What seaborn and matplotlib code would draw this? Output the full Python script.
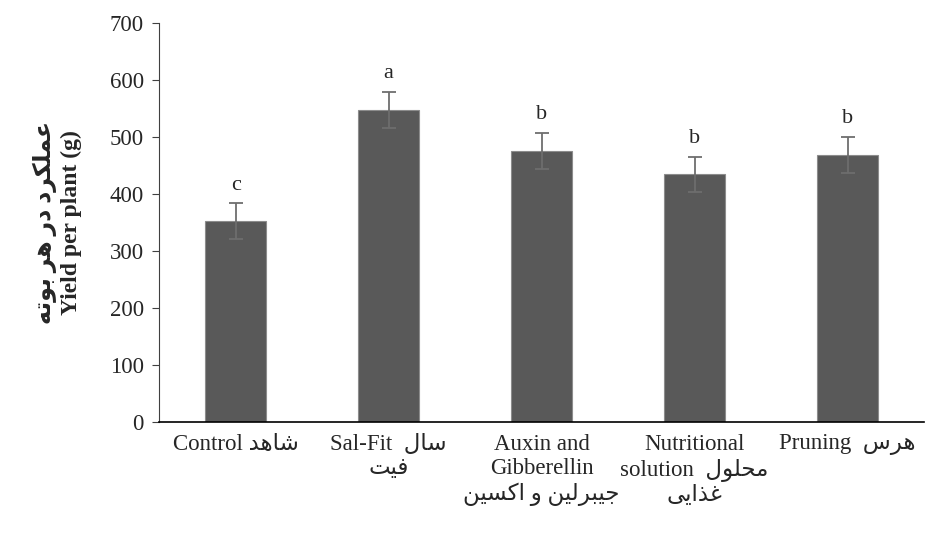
import numpy as np
import pandas as pd
import seaborn as sns
from matplotlib import pyplot as plt

# Arabic/Persian words are written in pre-shaped presentation forms, visual order
shahed = "\uFEAA\uFEEB\uFE8E\uFEB7"                     # شاهد
sal = "\uFEDD\uFE8E\uFEB3"                              # سال
fit = "\uFE96\uFEF4\uFED3"                              # فیت
auxin_fa = "\uFEE6\uFEF4\uFEB4\uFEDB\uFE8D"             # اکسین
gibb_fa = "\uFEE6\uFEF4\uFEDF\uFEAE\uFE92\uFEF4\uFE9F"  # جیبرلین
mahlul = "\uFEDD\uFEEE\uFEE0\uFEA4\uFEE3"               # محلول
ghazaei = "\uFEF0\uFEF3\uFE8D\uFEAC\uFECF"              # غذایی
haras = "\uFEB1\uFEAE\uFEEB"                            # هرس
ylab_fa = ("\uFEEA\uFE97\uFEEE\uFE91" + " " + "\uFEAE\uFEEB" + " "
           + "\uFEAD\uFEA9" + " " + "\uFEA9\uFEAE\uFEDC\uFEE0\uFEE4\uFECB")  # عملکرد در هر بوته

treatments = ["Control " + shahed,
              "Sal-Fit  " + sal + "\n" + fit,
              "Auxin and\nGibberellin\n" + auxin_fa + " \uFEED " + gibb_fa,
              "Nutritional\nsolution  " + mahlul + "\n" + ghazaei,
              "Pruning  " + haras]
yield_mean = [352, 547, 475, 434, 468]
yield_err = [31, 32, 32, 31, 32]
letters = ["c", "a", "b", "b", "b"]

df = pd.DataFrame({"treatment": treatments, "yield": yield_mean})

sns.set_style("white")
plt.rcParams['font.family'] = ['Liberation Serif', 'DejaVu Sans']

fig = plt.figure(figsize=(9.25, 5.41), dpi=100)
ax = fig.add_axes([0.172, 0.2205, 0.827, 0.7375])

sns.barplot(x="treatment", y="yield", data=df, color="#595959", width=0.4,
            errorbar=None, saturation=1, edgecolor="#8c8c8c", linewidth=0.8, ax=ax)
xs = np.arange(len(treatments))
ax.errorbar(xs, yield_mean, yerr=yield_err, fmt="none", ecolor="#6e6e6e",
            elinewidth=1.3, capsize=5, capthick=1.3)
for x, m, e, l in zip(xs, yield_mean, yield_err, letters):
    ax.annotate(l, (x, m + e), xytext=(0, 13), textcoords="offset points",
                ha="center", va="center", fontsize=16)

ax.set_ylim(0, 700)
ax.set_xlim(-0.5, 4.5)
ax.set_yticks(range(0, 701, 100))
ax.tick_params(axis="y", direction="out", length=5, width=0.8, color="#404040",
               labelsize=16.5, left=True, pad=6)
ax.tick_params(axis="x", length=0, labelsize=16.5, pad=9)
for t in ax.get_xticklabels():
    t.set_linespacing(1.2)
for s in ["top", "right"]:
    ax.spines[s].set_visible(False)
ax.spines["left"].set_color("#404040")
ax.spines["left"].set_linewidth(0.8)
ax.spines["bottom"].set_color("black")
ax.spines["bottom"].set_linewidth(1.2)
ax.set_xlabel("")
ax.set_ylabel(ylab_fa + "\n" + "Yield per plant (g)", fontsize=17,
              fontweight="bold", labelpad=20, linespacing=1.25)

fig.savefig("out.png", dpi=100)
